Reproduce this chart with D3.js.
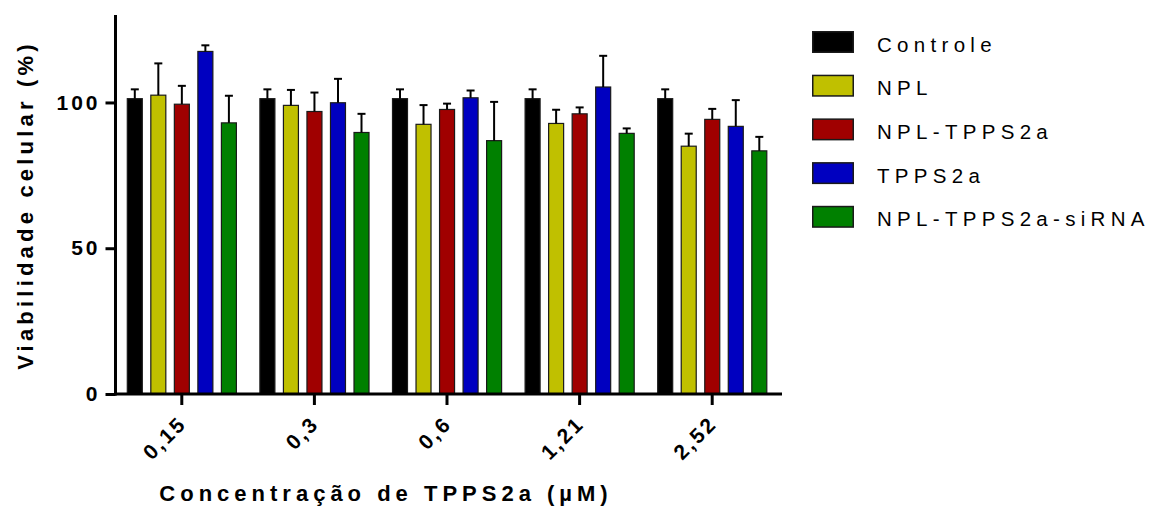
<!DOCTYPE html>
<html>
<head>
<meta charset="utf-8">
<script src="https://cdn.jsdelivr.net/npm/d3@7"></script>
<style>
  html, body { margin: 0; padding: 0; background: #fff; }
  svg { display: block; font-family: Arial, "Liberation Sans", sans-serif; }
</style>
</head>
<body>
<svg id="chart" width="1161" height="506"></svg>
<script>
// Concentrations of TPPS2a (µM) on the x axis
const concentrations = ["0,15", "0,3", "0,6", "1,21", "2,52"];

// Treatment groups, in drawing order
const seriesNames = ["Controle", "NPL", "NPL-TPPS2a", "TPPS2a", "NPL-TPPS2a-siRNA"];
const seriesColors = ["#000000", "#c0c000", "#a00000", "#0000c0", "#008000"];

// Mean cell viability (%) per concentration
const controle       = [101.3, 101.3, 101.3, 101.3, 101.3];
const npl            = [102.5, 99.0, 92.5, 92.8, 85.0];
const nplTpps2a      = [99.4, 96.9, 97.6, 96.1, 94.2];
const tpps2a         = [117.5, 99.9, 101.6, 105.3, 91.8];
const nplTpps2aSirna = [93.0, 89.7, 86.9, 89.4, 83.4];

// Standard deviations (upper error bars)
const controleErr       = [3.2, 3.2, 3.2, 3.2, 3.2];
const nplErr            = [10.9, 5.3, 6.6, 4.7, 4.3];
const nplTpps2aErr      = [6.3, 6.5, 2.0, 2.2, 3.6];
const tpps2aErr         = [2.1, 8.2, 2.5, 10.7, 9.0];
const nplTpps2aSirnaErr = [9.3, 6.4, 13.3, 1.7, 4.8];

const yTicks = [0, 50, 100];

const means = [controle, npl, nplTpps2a, tpps2a, nplTpps2aSirna];
const errs = [controleErr, nplErr, nplTpps2aErr, tpps2aErr, nplTpps2aSirnaErr];

const rows = [];
concentrations.forEach((c, i) => {
  seriesNames.forEach((s, j) => {
    rows.push({ conc: c, series: s, color: seriesColors[j], value: means[j][i], err: errs[j][i] });
  });
});

const svg = d3.select("#chart");

const plotLeft = 115.5, plotRight = 782, plotBottom = 394, plotTop = 15;

const x0 = d3.scaleBand()
  .domain(concentrations)
  .range([plotLeft, 778.5])
  .paddingInner(0)
  .paddingOuter(0);

const x1 = d3.scaleBand()
  .domain(seriesNames)
  .range([11.3, 121.4])
  .paddingInner(0.32)
  .paddingOuter(0);

const y = d3.scaleLinear().domain([0, 130]).range([plotBottom, plotTop]);

// Bars
const groups = svg.append("g")
  .selectAll("g")
  .data(concentrations)
  .join("g")
  .attr("transform", d => `translate(${x0(d)},0)`);

groups.selectAll("rect")
  .data(c => rows.filter(r => r.conc === c))
  .join("rect")
  .attr("x", d => x1(d.series) + 0.5)
  .attr("y", d => y(d.value))
  .attr("width", x1.bandwidth() - 1)
  .attr("height", d => y(0) - y(d.value))
  .attr("fill", d => d.color)
  .attr("stroke", "#1a1a1a")
  .attr("stroke-width", 1.2);

// Upper error bars
const eb = groups.selectAll("g.err")
  .data(c => rows.filter(r => r.conc === c))
  .join("g")
  .attr("class", "err")
  .attr("stroke", "#000")
  .attr("stroke-width", 2);

eb.append("line")
  .attr("x1", d => x1(d.series) + x1.bandwidth() / 2)
  .attr("x2", d => x1(d.series) + x1.bandwidth() / 2)
  .attr("y1", d => y(d.value))
  .attr("y2", d => y(d.value + d.err));

eb.append("line")
  .attr("x1", d => x1(d.series) + x1.bandwidth() / 2 - 4)
  .attr("x2", d => x1(d.series) + x1.bandwidth() / 2 + 4)
  .attr("y1", d => y(d.value + d.err))
  .attr("y2", d => y(d.value + d.err));

// Y axis
const yAxis = svg.append("g")
  .attr("transform", `translate(${plotLeft},0)`)
  .call(d3.axisLeft(y).tickValues(yTicks).tickSize(10).tickPadding(8).tickSizeOuter(0));
yAxis.select(".domain").attr("stroke", "#000").attr("stroke-width", 3)
  .attr("d", `M0,${plotTop}V${plotBottom + 1.5}`);
yAxis.selectAll(".tick line").attr("stroke", "#000").attr("stroke-width", 3);
yAxis.selectAll(".tick text")
  .attr("fill", "#000")
  .style("font-size", "21px")
  .style("font-weight", "bold")
  .style("letter-spacing", "3px")
  .attr("dx", "3px");

// X axis
const xAxis = svg.append("g")
  .attr("transform", `translate(0,${plotBottom})`)
  .call(d3.axisBottom(x0).tickSize(11).tickSizeOuter(0));
xAxis.select(".domain").attr("stroke", "#000").attr("stroke-width", 3)
  .attr("d", `M${plotLeft - 1.5},0H${plotRight}`);
xAxis.selectAll(".tick line").attr("stroke", "#000").attr("stroke-width", 3);
xAxis.selectAll(".tick text")
  .attr("fill", "#000")
  .style("font-size", "21px")
  .style("font-weight", "bold")
  .style("letter-spacing", "2.5px")
  .attr("text-anchor", "end")
  .attr("dy", null)
  .attr("y", 0)
  .attr("transform", "translate(6,31) rotate(-45)");

// Axis titles
svg.append("text")
  .attr("x", 386)
  .attr("y", 501)
  .attr("text-anchor", "middle")
  .style("font-size", "22px")
  .style("font-weight", "bold")
  .style("letter-spacing", "5px")
  .text("Concentração de TPPS2a (µM)");

svg.append("text")
  .attr("transform", "translate(33,205) rotate(-90)")
  .attr("text-anchor", "middle")
  .style("font-size", "22px")
  .style("font-weight", "bold")
  .style("letter-spacing", "4.2px")
  .text("Viabilidade celular (%)");

// Legend
const legend = svg.append("g")
  .selectAll("g")
  .data(seriesNames)
  .join("g")
  .attr("transform", (d, i) => `translate(812,${31 + i * 43.7})`);

legend.append("rect")
  .attr("x", 0.75)
  .attr("y", 0.75)
  .attr("width", 40.5)
  .attr("height", 20.5)
  .attr("fill", (d, i) => seriesColors[i])
  .attr("stroke", "#1a1a1a")
  .attr("stroke-width", 1.5);

legend.append("text")
  .attr("x", 65)
  .attr("y", 20.5)
  .style("font-size", "20.5px")
  .style("letter-spacing", "5.3px")
  .attr("fill", "#000")
  .text(d => d);
</script>
</body>
</html>
